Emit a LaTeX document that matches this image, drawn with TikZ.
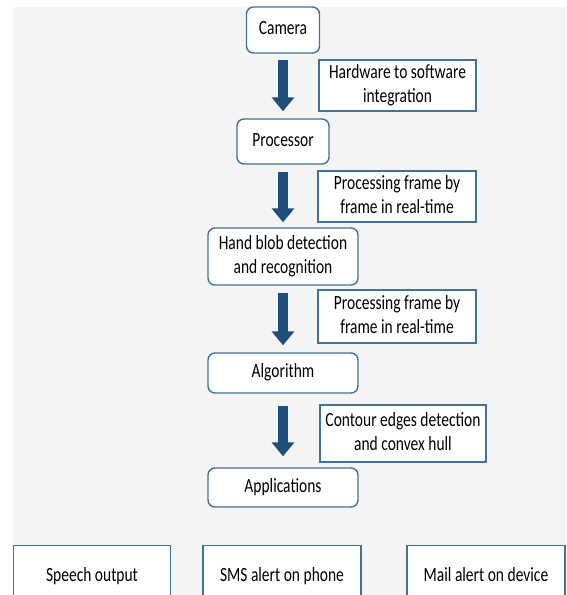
\documentclass[tikz,border=0pt]{standalone}
\usepackage{fontspec}
\setmainfont{Carlito}
\usepackage{xcolor}
\usepackage{graphicx}
\usepackage{tikz}
\usetikzlibrary{arrows.meta, positioning}
\definecolor{boxedge}{HTML}{41719C}
\definecolor{arrowblue}{HTML}{1F4E79}
\definecolor{pagegrey}{HTML}{F4F4F4}
\newcommand{\flowfont}{\fontsize{15.5}{19.2}\selectfont}
% the slide text is drawn a little taller than wide
\newcommand{\tallbox}[1]{\scalebox{1}[1.3]{\begin{tabular}{@{}c@{}}#1\end{tabular}}}
\tikzset{
  stagebox/.style={draw=boxedge,line width=1.4pt,fill=white,rounded corners=7pt,
    align=center,inner sep=0pt,font=\flowfont},
  notebox/.style={draw=boxedge,line width=1.4pt,fill=white,align=center,
    inner sep=0pt,font=\flowfont},
  outbox/.style={notebox},
  flowarrow/.style={-{Triangle[width=22pt,length=14pt]},line width=10pt,arrowblue},
}
\begin{document}
\begin{tikzpicture}[x=1pt,y=-1pt]
  \useasboundingbox (0,0) rectangle (566,595);
  \clip (0,0) rectangle (566,595);
  \fill[pagegrey] (13,7) rectangle (566,595);
  % ---- pipeline stages ----
  \node[stagebox,minimum width=73pt,minimum height=46pt] (cam) at (283,30) {\tallbox{Camera}};
  \node[stagebox,minimum width=92pt,minimum height=45pt] (proc) at (283,141.5) {\tallbox{Processor}};
  \node[stagebox,minimum width=150pt,minimum height=57pt] (hand) at (283,256.5) {\tallbox{Hand blob detection\\and recognition}};
  \node[stagebox,minimum width=150pt,minimum height=40pt] (algo) at (283,373) {\tallbox{Algorithm}};
  \node[stagebox,minimum width=150pt,minimum height=39pt] (apps) at (283,487.5) {\tallbox{Applications}};
  % ---- notes beside the arrows ----
  \node[notebox,minimum width=157pt,minimum height=51pt] (note1) at (397.5,85.5) {\tallbox{Hardware to software\\integration}};
  \node[notebox,minimum width=158pt,minimum height=51pt] (note2) at (397,196.5) {\tallbox{Processing frame by\\frame in real-time}};
  \node[notebox,minimum width=158pt,minimum height=53pt] (note3) at (397,316.5) {\tallbox{Processing frame by\\frame in real-time}};
  \node[notebox,minimum width=166pt,minimum height=57pt] (note4) at (403,433.5) {\tallbox{Contour edges detection\\and convex hull}};
  % ---- outputs (cut at the page bottom) ----
  \node[outbox,minimum width=157pt,minimum height=62pt,anchor=north] (speech) at (92,545) {\raisebox{-5pt}{\tallbox{Speech output}}};
  \node[outbox,minimum width=158pt,minimum height=62pt,anchor=north] (sms) at (282,545) {\raisebox{-5pt}{\tallbox{SMS alert on phone}}};
  \node[outbox,minimum width=158pt,minimum height=62pt,anchor=north] (mail) at (486,545) {\raisebox{-5pt}{\tallbox{Mail alert on device}}};
  % ---- flow arrows ----
  \draw[flowarrow,shorten <=6pt,shorten >=7pt] (cam) -- (proc);
  \draw[flowarrow,shorten <=7pt,shorten >=5pt] (proc) -- (hand);
  \draw[flowarrow,shorten <=7pt,shorten >=7pt] (hand) -- (algo);
  \draw[flowarrow,shorten <=12pt,shorten >=11pt] (algo) -- (apps);
\end{tikzpicture}
\end{document}
